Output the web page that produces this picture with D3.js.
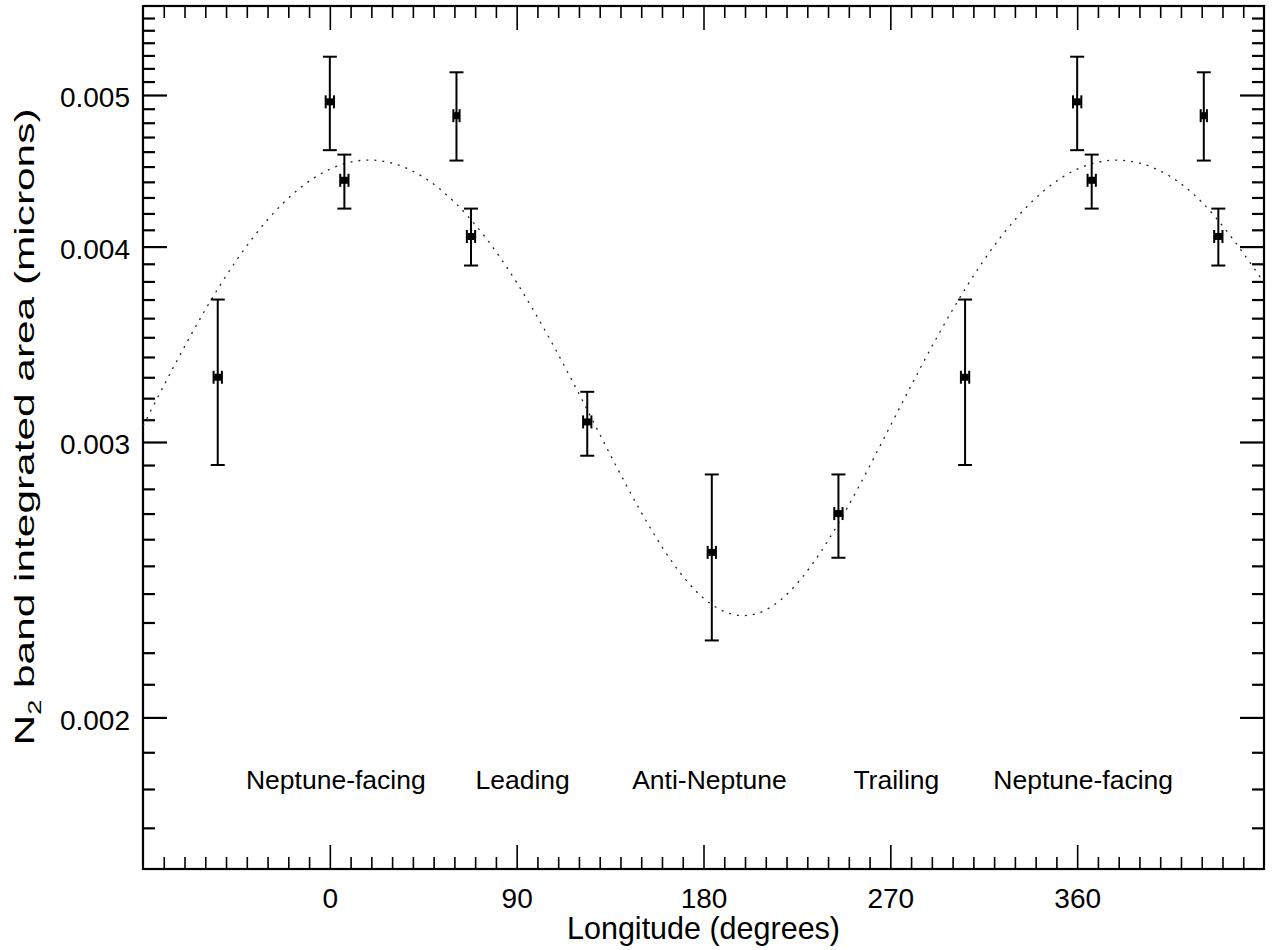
<!DOCTYPE html>
<html>
<head>
<meta charset="utf-8">
<script src="https://cdn.jsdelivr.net/npm/d3@7"></script>
<style>
  body { margin: 0; background: #fff; }
  text { font-family: "Liberation Sans", Arial, Helvetica, sans-serif; fill: #000; }
</style>
</head>
<body>
<div id="chart"></div>
<script>
// measured points (longitude in degrees, band area in microns)
const lon    = [0, 7, 61, 68, 124, 184, 245, 306];
const lonErr = [2, 2, 1.5, 2, 2, 2, 2, 2];
const area   = [0.00495, 0.00441, 0.00485, 0.00406, 0.00309, 0.00255, 0.00270, 0.00330];
const areaLo = [0.00461, 0.00423, 0.00454, 0.00389, 0.00294, 0.00224, 0.00253, 0.00290];
const areaHi = [0.00529, 0.00458, 0.00517, 0.00423, 0.00323, 0.00286, 0.00286, 0.00370];

const fitLon  = [-90, -60, -30, 0, 30, 60, 90, 120, 150, 180, 210, 240, 270, 300, 330, 360, 390, 420, 450];
const fitArea = [0.003072, 0.003645, 0.004161, 0.004483, 0.004523, 0.004271, 0.003794, 0.003221, 0.002705,
                 0.002384, 0.002343, 0.002595, 0.003072, 0.003645, 0.004161, 0.004483, 0.004523, 0.004271, 0.003794];

// hemisphere labels
const regionLon  = [0, 90, 180, 270, 360];
const regionName = ["Neptune-facing", "Leading", "Anti-Neptune", "Trailing", "Neptune-facing"];

// ticks
const xMajor = [0, 90, 180, 270, 360];
const yMajor = [0.002, 0.003, 0.004, 0.005];

const width = 1273;
const height = 950;
const margin = { top: 6, right: 9, bottom: 81, left: 143 };

const x = d3.scaleLinear()
        .domain([-90, 450])
        .range([margin.left, width - margin.right]);

const y = d3.scaleLog()
        .domain([0.0016, 0.0057])
        .range([height - margin.bottom, margin.top]);

const xMinor = d3.range(-80, 450, 10).filter(d => !xMajor.includes(d));
const yMinor = d3.range(17, 57).map(d => d / 10000).filter(d => !yMajor.some(m => Math.abs(m - d) < 1e-9));

const svg = d3.select("#chart")
      .append("svg")
      .attr("width", width)
      .attr("height", height)

const plotH = y.range()[0] - y.range()[1];
const plotW = x.range()[1] - x.range()[0];

// axes (ticks point inward, IDL style)
const axisStyle = g => g.call(g => g.select(".domain").remove())
        .call(g => g.selectAll("line").attr("stroke", "#000"));

svg.append("g")
    .attr("transform", `translate(0, ${y.range()[0]})`)
    .call(d3.axisBottom(x).tickValues(xMajor).tickSize(-24).tickPadding(19).tickFormat(d3.format("d")))
    .call(axisStyle)
    .call(g => g.selectAll("line").attr("stroke-width", 1.6))
    .call(g => g.selectAll("text").attr("font-size", 28));
svg.append("g")
    .attr("transform", `translate(0, ${y.range()[0]})`)
    .call(d3.axisBottom(x).tickValues(xMinor).tickSize(-12).tickFormat(""))
    .call(axisStyle)
    .call(g => g.selectAll("line").attr("stroke-width", 1.6));
svg.append("g")
    .attr("transform", `translate(0, ${y.range()[1]})`)
    .call(d3.axisTop(x).tickValues(xMajor).tickSize(-24).tickFormat(""))
    .call(axisStyle)
    .call(g => g.selectAll("line").attr("stroke-width", 1.6));
svg.append("g")
    .attr("transform", `translate(0, ${y.range()[1]})`)
    .call(d3.axisTop(x).tickValues(xMinor).tickSize(-12).tickFormat(""))
    .call(axisStyle)
    .call(g => g.selectAll("line").attr("stroke-width", 1.6));

svg.append("g")
    .attr("transform", `translate(${x.range()[0]}, 0)`)
    .call(d3.axisLeft(y).tickValues(yMajor).tickSize(-24).tickPadding(13).tickFormat(d3.format(".3f")))
    .call(axisStyle)
    .call(g => g.selectAll("line").attr("stroke-width", 2.2))
    .call(g => g.selectAll("text").attr("font-size", 28).attr("dy", "0.42em"));
svg.append("g")
    .attr("transform", `translate(${x.range()[0]}, 0)`)
    .call(d3.axisLeft(y).tickValues(yMinor).tickSize(-12).tickFormat(""))
    .call(axisStyle)
    .call(g => g.selectAll("line").attr("stroke-width", 2.2));
svg.append("g")
    .attr("transform", `translate(${x.range()[1]}, 0)`)
    .call(d3.axisRight(y).tickValues(yMajor).tickSize(-24).tickFormat(""))
    .call(axisStyle)
    .call(g => g.selectAll("line").attr("stroke-width", 2.2));
svg.append("g")
    .attr("transform", `translate(${x.range()[1]}, 0)`)
    .call(d3.axisRight(y).tickValues(yMinor).tickSize(-12).tickFormat(""))
    .call(axisStyle)
    .call(g => g.selectAll("line").attr("stroke-width", 2.2));

// frame
svg.append("rect")
    .attr("x", x.range()[0])
    .attr("y", y.range()[1])
    .attr("width", plotW)
    .attr("height", plotH)
    .attr("fill", "none")
    .attr("stroke", "#000")
    .attr("stroke-width", 2.2);

// fit curve
const line = d3.line()
        .x((d, i) => x(fitLon[i]))
        .y(d => y(d))
        .curve(d3.curveNatural);

svg.append("path")
    .datum(fitArea)
    .attr("d", line)
    .attr("fill", "none")
    .attr("stroke", "#222")
    .attr("stroke-width", 1.3)
    .attr("stroke-dasharray", "2,6");

// points, wrapped by +/- 360 where they fall in the plotted range
const pts = [];
lon.forEach((l, i) => {
  [-360, 0, 360].forEach(s => {
    const L = l + s;
    if (L >= x.domain()[0] && L <= x.domain()[1])
      pts.push({ lon: L, le: lonErr[i], v: area[i], lo: areaLo[i], hi: areaHi[i] });
  });
});

const pg = svg.append("g")
      .attr("stroke", "#000")
      .attr("stroke-width", 2)
  .selectAll("g")
  .data(pts)
  .join("g");

pg.append("line")
    .attr("x1", d => x(d.lon)).attr("x2", d => x(d.lon))
    .attr("y1", d => y(d.hi)).attr("y2", d => y(d.lo));
pg.append("line")
    .attr("x1", d => x(d.lon) - 7).attr("x2", d => x(d.lon) + 7)
    .attr("y1", d => y(d.hi)).attr("y2", d => y(d.hi));
pg.append("line")
    .attr("x1", d => x(d.lon) - 7).attr("x2", d => x(d.lon) + 7)
    .attr("y1", d => y(d.lo)).attr("y2", d => y(d.lo));
// longitude error
pg.append("line")
    .attr("x1", d => x(d.lon - d.le)).attr("x2", d => x(d.lon + d.le))
    .attr("y1", d => y(d.v)).attr("y2", d => y(d.v));
pg.append("line")
    .attr("x1", d => x(d.lon - d.le)).attr("x2", d => x(d.lon - d.le))
    .attr("y1", d => y(d.v) - 6.5).attr("y2", d => y(d.v) + 6.5);
pg.append("line")
    .attr("x1", d => x(d.lon + d.le)).attr("x2", d => x(d.lon + d.le))
    .attr("y1", d => y(d.v) - 6.5).attr("y2", d => y(d.v) + 6.5);
pg.append("rect")
    .attr("x", d => x(d.lon) - 3.5)
    .attr("y", d => y(d.v) - 3.5)
    .attr("width", 7)
    .attr("height", 7)
    .attr("fill", "#000")
    .attr("stroke", "none");

// region labels
svg.append("g")
  .selectAll("text")
  .data(regionName)
  .join("text")
    .attr("x", (d, i) => x(regionLon[i]) + 6)
    .attr("y", y(0.0018))
    .attr("text-anchor", "middle")
    .attr("font-size", 26.5)
    .text(d => d);

// axis titles
svg.append("text")
    .attr("x", (x.range()[0] + x.range()[1]) / 2)
    .attr("y", 939)
    .attr("text-anchor", "middle")
    .attr("font-size", 30.5)
    .text("Longitude (degrees)");

// y title is longer than the font gives, so stretch it to the measured length
const yTitle = svg.append("text")
    .attr("transform", `translate(34, 427) rotate(-90)`)
    .attr("text-anchor", "middle")
    .attr("font-size", 28)
    .attr("textLength", 637)
    .attr("lengthAdjust", "spacingAndGlyphs");
yTitle.append("tspan").text("N");
yTitle.append("tspan").attr("font-size", 18).attr("dy", 7).text("2");
yTitle.append("tspan").attr("dy", -7).text(" band integrated area (microns)");
</script>
</body>
</html>
